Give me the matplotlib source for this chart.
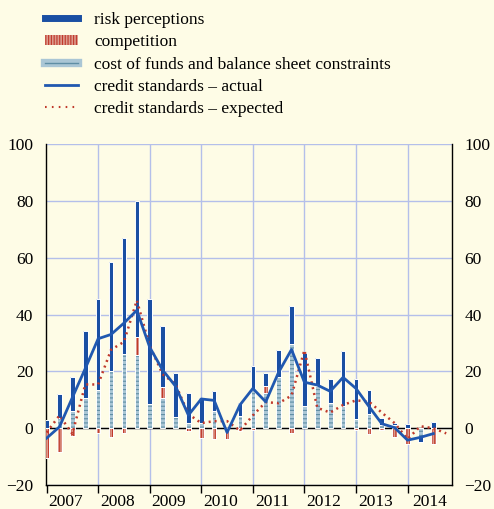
import numpy as np
import matplotlib.pyplot as plt
from matplotlib.patches import Patch
from matplotlib.lines import Line2D

# quarterly data, 2007 Q1 - 2014 Q3 (expected goes one quarter further)
years = ['2007', '2008', '2009', '2010', '2011', '2012', '2013', '2014']

risk = [3, 8.5, 12, 23.5, 32, 38.5, 41, 48, 37, 21.5, 15.5, 10.5, 8.8, 7, 0,
        4.5, 8.5, 4.5, 9.5, 13.5, 18.5, 10, 8.7, 19.5, 14, 8.5, 2.2, 1, 1.4, -2, 2.3]
competition = [-10.5, -8.2, -2.7, 0, -1.5, -3, -1.5, 6.4, 0, 4, 0, -1, -3.5, -3.8, -3.8,
               -1, -0.5, 2.5, 0, -1.5, 0, 0, 0, 0, -0.5, -2, -0.5, -3, -5.5, 0, -5.5]
cost_funds = [0, 3.5, 6.2, 10.7, 13.5, 20, 26, 25.6, 8.5, 10.5, 4, 2, 2, 6, 0,
              4.3, 13.5, 12.3, 18, 29.5, 7.8, 14.8, 8.8, 7.7, 3.2, 5, 1.3, 1, 0, -3, 0]
actual = [-3.5, 0.5, 10.8, 21, 31.5, 33, 37, 41.5, 28.5, 20.5, 14.8, 4.6, 10.3, 9.8, -1.5,
          8.2, 14, 9.3, 19.7, 27.7, 16.2, 15.2, 13, 17.9, 14, 7.7, 1.6, 0.2, -4.2, -3.2, -1.9]
expected = [-1.5, 4.5, -2, 15.4, 15.4, 27.6, 30.4, 45, 29, 19, 15.5, 5, 1.8, 2.5, 2.5, -0.8,
            4.5, 9.2, 8.8, 11.5, 27.5, 7.2, 5.5, 8.2, 9.8, 9.4, 5.5, 1.8, -3.8, 0.7, 0, -1.8]

bg = '#fefce6'
grid_col = '#b4bfea'
blue = '#1a4fa3'
line_blue = '#2058b0'
red = '#c0392b'
pink = '#dc9a8c'
light = '#aac6d5'
dash_col = '#5f8ea5'

plt.rcParams['font.family'] = ['Liberation Serif', 'DejaVu Serif']
plt.rcParams['font.size'] = 12
plt.rcParams['hatch.linewidth'] = 0.8

fig = plt.figure(figsize=(4.94, 5.09), dpi=100, facecolor=bg)
ax = fig.add_axes([0.093, 0.047, 0.822, 0.670], facecolor=bg)

x = np.arange(len(risk))
w = 0.36

# stack: cost of funds at the base, then competition, then risk perceptions
pos_base = np.zeros(len(x))
neg_base = np.zeros(len(x))
series = [(cost_funds, light, dash_col, '----'),
          (competition, pink, red, '||||||'),
          (risk, blue, blue, None)]
for vals, face, hcol, hatch in series:
    v = np.array(vals, dtype=float)
    bottom = np.where(v >= 0, pos_base, neg_base)
    ax.bar(x, v, w, bottom=bottom, color=face, edgecolor=hcol, hatch=hatch,
           linewidth=0, zorder=3)
    ax.bar(x, v, w, bottom=bottom, fill=False, edgecolor='white',
           linewidth=0.7, zorder=3)
    pos_base = pos_base + np.where(v > 0, v, 0)
    neg_base = neg_base + np.where(v < 0, v, 0)

ax.axhline(0, color='black', linewidth=1, zorder=2)

ax.plot(np.arange(len(expected)), expected, color=red, linewidth=1.8,
        linestyle=(0, (0.8, 1.6)), zorder=4)
ax.plot(x, actual, color=line_blue, linewidth=2, zorder=5)

ax.set_xlim(-0.05, 31.45)
ax.set_ylim(-20, 100)
ax.set_yticks(np.arange(-20, 101, 20))
ax.yaxis.grid(True, color=grid_col, linewidth=1)
ax.set_axisbelow(True)
for k in range(4, 29, 4):
    ax.axvline(k, color=grid_col, linewidth=1, zorder=1)

ax.set_xticks(np.arange(0, 29, 4))
ax.set_xticklabels([])
ax.set_xticks([1.5, 5.5, 9.5, 13.5, 17.5, 21.5, 25.5, 29.7], minor=True)
ax.set_xticklabels(years, minor=True)
ax.tick_params(axis='x', which='major', direction='out', length=6, width=1)
ax.tick_params(axis='x', which='minor', length=0, pad=6.5, labelsize=12.5)
ax.tick_params(axis='y', length=0, pad=9, labelsize=12.5,
               labelleft=True, labelright=True)

ax.spines['top'].set_visible(False)
for s in ['left', 'right', 'bottom']:
    ax.spines[s].set_color('black')
    ax.spines[s].set_linewidth(1)

handles = [
    Line2D([0], [0], color=blue, linewidth=5),
    Patch(facecolor=pink, edgecolor=red, hatch='||||||', linewidth=0),
    (Line2D([0], [0], color=light, linewidth=6), Line2D([0], [0], color=dash_col, linewidth=1)),
    Line2D([0], [0], color=line_blue, linewidth=2),
    Line2D([0], [0], color=red, linewidth=1.5, linestyle=(0, (0.8, 2.5))),
]
labels = ['risk perceptions', 'competition', 'cost of funds and balance sheet constraints',
          'credit standards \u2013 actual', 'credit standards \u2013 expected']
fig.legend(handles, labels, loc='upper left', bbox_to_anchor=(0.078, 0.99),
           frameon=False, fontsize=12.5, handlelength=1.85, handleheight=0.5,
           handletextpad=0.95, labelspacing=0.36, borderaxespad=0)

fig.savefig('out.png', dpi=100, facecolor=bg)
